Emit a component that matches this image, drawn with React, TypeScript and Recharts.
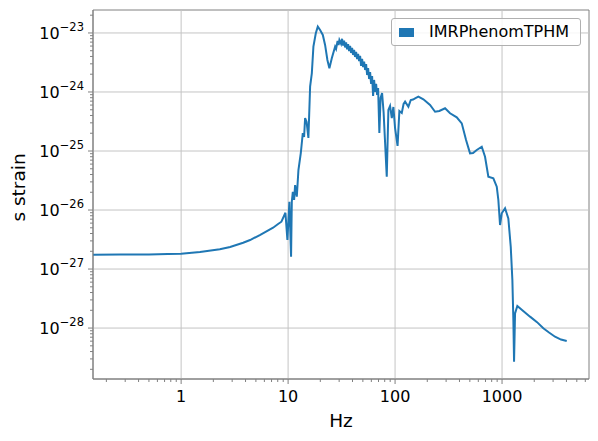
import { LineChart, Line, XAxis, YAxis, ReferenceLine, ReferenceArea } from "recharts";

// frequency (Hz) and strain amplitude
const freq = [
  0.15, 0.27, 0.5, 0.75, 1, 1.5, 2.3, 2.87, 3.8, 4.41, 5.44, 6.1, 7.24, 8.06, 8.66, 9.44, 9.85, 10.28, 10.66,
  10.83, 11.07, 11.38, 11.63, 12.06, 12.49, 13.15, 13.72, 14.11, 14.42, 14.89, 15.48, 16.06, 16.66, 17.24, 18.15,
  18.95, 19.91, 21.11, 22.17, 23.3, 24.32, 25.61, 27.5, 28.09, 29.01, 29.65, 30.17, 31.28, 31.96, 32.66, 33.37,
  34.1, 34.84, 35.6, 36.38, 37.17, 37.98, 38.81, 39.65, 40.52, 41.4, 42.3, 43.22, 44.16, 45.12, 46.1, 47.11,
  48.13, 49.18, 50.25, 51.34, 52.46, 53.6, 54.77, 55.96, 57.18, 58.42, 59.69, 60.99, 62.32, 63.67, 65.06, 66.48,
  67.92, 69.4, 71.3, 73.2, 75.6, 78.1, 83.6, 86.6, 89.8, 93.2, 96.4, 100, 105.5, 109.7, 115.5, 120.1, 124.1,
  133.2, 140.2, 147.3, 153.8, 165.1, 183.9, 212.3, 236.5, 259.4, 293.3, 326.6, 377.3, 420.2, 460.9, 502.2,
  535.8, 580.2, 646.1, 693.5, 744.7, 829.4, 892.4, 923.6, 957.9, 993.6, 1067, 1145, 1206, 1249, 1276, 1295,
  1323, 1390, 1538, 1827, 2124, 2432, 2749, 3129, 3558, 4025,
];
const strain = [
  1.75e-27, 1.76e-27, 1.77e-27, 1.79e-27, 1.82e-27, 1.94e-27, 2.16e-27, 2.36e-27, 2.79e-27, 3.1e-27, 3.77e-27,
  4.24e-27, 5.01e-27, 5.79e-27, 6.34e-27, 9.0e-27, 3.1e-27, 1.38e-26, 1.61e-27, 1.38e-26, 2.04e-26, 1.48e-26,
  2.65e-26, 1.68e-26, 4.76e-26, 9.25e-26, 2.02e-25, 1.73e-25, 3.62e-25, 3.1e-25, 1.66e-25, 1.23e-24, 2.07e-24,
  5.86e-24, 9.88e-24, 1.28e-23, 1.12e-23, 9.25e-24, 6.26e-24, 3.48e-24, 2.52e-24, 3.72e-24, 5.86e-24, 5.36e-24,
  7.32e-24, 6.26e-24, 7.61e-24, 6.53e-24, 7.97e-24, 6.09e-24, 7.43e-24, 5.68e-24, 6.93e-24, 5.29e-24, 6.46e-24,
  4.93e-24, 6.02e-24, 4.58e-24, 5.57e-24, 4.24e-24, 5.15e-24, 3.92e-24, 4.76e-24, 3.62e-24, 4.41e-24, 3.35e-24,
  4.08e-24, 2.76e-24, 3.65e-24, 2.65e-24, 3.27e-24, 2.36e-24, 2.98e-24, 1.94e-24, 2.55e-24, 1.66e-24, 2.18e-24,
  1.37e-24, 1.87e-24, 8.55e-25, 1.6e-24, 1.0e-24, 1.37e-24, 8.89e-25, 1.17e-24, 2.02e-25, 7.91e-25, 9.62e-25,
  4.58e-25, 3.66e-26, 4.95e-25, 5.79e-25, 3.62e-25, 5.57e-25, 2.45e-25, 1.22e-25, 4.76e-25, 4.41e-25, 6.26e-25,
  6.85e-25, 5.63e-25, 7.31e-25, 7.46e-25, 7.82e-25, 8.32e-25, 7.52e-25, 6.03e-25, 4.63e-25, 4.76e-25, 5.3e-25,
  4.36e-25, 3.72e-25, 2.94e-25, 1.54e-25, 9.14e-26, 9.25e-26, 1.04e-25, 1.18e-25, 8.0e-26, 3.66e-26, 3.44e-26,
  2.48e-26, 1.48e-26, 5.57e-27, 8.79e-27, 1.07e-26, 7.23e-27, 2.39e-27, 6.52e-28, 1.37e-28, 2.69e-29, 1.77e-28,
  2.36e-28, 2.02e-28, 1.56e-28, 1.26e-28, 9.89e-29, 8.39e-29, 7.13e-29, 6.38e-29, 6.03e-29,
];

const xDomain = [0.15, 6500];
const yDomain = [1.37e-29, 2.45e-23];
const xMajorTicks = [1, 10, 100, 1000];
const xTickLabels = ["1", "10", "100", "1000"];
const yMajorTicks = [1e-28, 1e-27, 1e-26, 1e-25, 1e-24, 1e-23];
const yTickExponents = ["\u221228", "\u221227", "\u221226", "\u221225", "\u221224", "\u221223"];

const minors = (from: number, to: number, lo: number, hi: number) => {
  const out: number[] = [];
  for (let d = from; d <= to; d++) {
    for (let m = 2; m <= 9; m++) {
      const v = m * Math.pow(10, d);
      if (v >= lo && v <= hi) out.push(v);
    }
  }
  return out;
};
const xMinorTicks = minors(-1, 3, xDomain[0], xDomain[1]);
const yMinorTicks = minors(-29, -23, yDomain[0], yDomain[1]);

const data = freq.map((f, i) => ({ f, h: strain[i] }));

const FONT = "DejaVu Sans";
const AXIS = "#808080";
const GRID = "#c4c4c4";

function XTick(props: any) {
  const { x, y, payload } = props;
  const idx = xMajorTicks.indexOf(payload.value);
  const len = idx >= 0 ? 5 : 3;
  return (
    <g>
      <line x1={x} x2={x} y1={y} y2={y + len} stroke={AXIS} strokeWidth={1} />
      {idx >= 0 && (
        <text x={x} y={y + 23} textAnchor="middle" fontFamily={FONT} fontSize={16} fill="#000">
          {xTickLabels[idx]}
        </text>
      )}
    </g>
  );
}

function YTick(props: any) {
  const { x, y, payload } = props;
  const idx = yMajorTicks.indexOf(payload.value);
  const len = idx >= 0 ? 5 : 3;
  return (
    <g>
      <line x1={x - len} x2={x} y1={y} y2={y} stroke={AXIS} strokeWidth={1} />
      {idx >= 0 && (
        <text x={x - 9} y={y + 6} textAnchor="end" fontFamily={FONT} fontSize={16} fill="#000">
          10
          <tspan dy={-8} fontSize={11.5}>
            {yTickExponents[idx]}
          </tspan>
        </text>
      )}
    </g>
  );
}

export default function App() {
  return (
    <div style={{ position: "relative", width: 590, height: 425 }}>
      <LineChart width={590} height={425} data={data} margin={{ top: 2, right: 9, left: 0, bottom: 0 }}>
        <XAxis
          dataKey="f"
          type="number"
          scale="log"
          domain={xDomain}
          allowDataOverflow
          ticks={[...xMajorTicks, ...xMinorTicks]}
          interval={0}
          tick={(p: any) => <XTick {...p} />}
          tickLine={false}
          tickSize={0}
          tickMargin={0}
          height={54}
          axisLine={{ stroke: AXIS }}
          label={(p: any) => {
            const vb = p.viewBox;
            return (
              <text x={vb.x + vb.width / 2} y={vb.y + 48} textAnchor="middle" fontFamily={FONT} fontSize={18.5} fill="#000">
                Hz
              </text>
            );
          }}
        />
        <YAxis
          dataKey="h"
          type="number"
          scale="log"
          domain={yDomain}
          allowDataOverflow
          ticks={[...yMajorTicks, ...yMinorTicks]}
          interval={0}
          tick={(p: any) => <YTick {...p} />}
          tickLine={false}
          tickSize={0}
          tickMargin={0}
          width={85}
          axisLine={{ stroke: AXIS }}
          label={(p: any) => {
            const vb = p.viewBox;
            const cx = vb.x + 17;
            const cy = vb.y + vb.height / 2 - 7;
            return (
              <text x={cx} y={cy} transform={`rotate(-90 ${cx} ${cy})`} textAnchor="middle" fontFamily={FONT} fontSize={18.5} fill="#000">
                s strain
              </text>
            );
          }}
        />
        {xMajorTicks.map((v) => (
          <ReferenceLine key={`gx${v}`} x={v} stroke={GRID} strokeWidth={1} />
        ))}
        {yMajorTicks.map((v) => (
          <ReferenceLine key={`gy${v}`} y={v} stroke={GRID} strokeWidth={1} />
        ))}
        <ReferenceArea
          x1={xDomain[0]}
          x2={xDomain[1]}
          y1={yDomain[0]}
          y2={yDomain[1]}
          fill="none"
          stroke={AXIS}
          strokeWidth={1}
          ifOverflow="visible"
        />
        <Line type="linear" dataKey="h" stroke="#1f77b4" strokeWidth={2} dot={false} isAnimationActive={false} />
      </LineChart>
      <div
        style={{
          position: "absolute",
          left: 383,
          top: 10,
          width: 190,
          height: 28,
          boxSizing: "border-box",
          border: "1px solid #b0b0b0",
          borderRadius: 3,
          background: "rgba(255,255,255,0.85)",
          fontFamily: FONT,
          fontSize: 16,
        }}
      >
        <div style={{ position: "absolute", left: 7, top: 9, width: 15, height: 9, background: "#1f77b4" }} />
        <div style={{ position: "absolute", left: 37, top: 3, lineHeight: "20px", color: "#000" }}>IMRPhenomTPHM</div>
      </div>
    </div>
  );
}
